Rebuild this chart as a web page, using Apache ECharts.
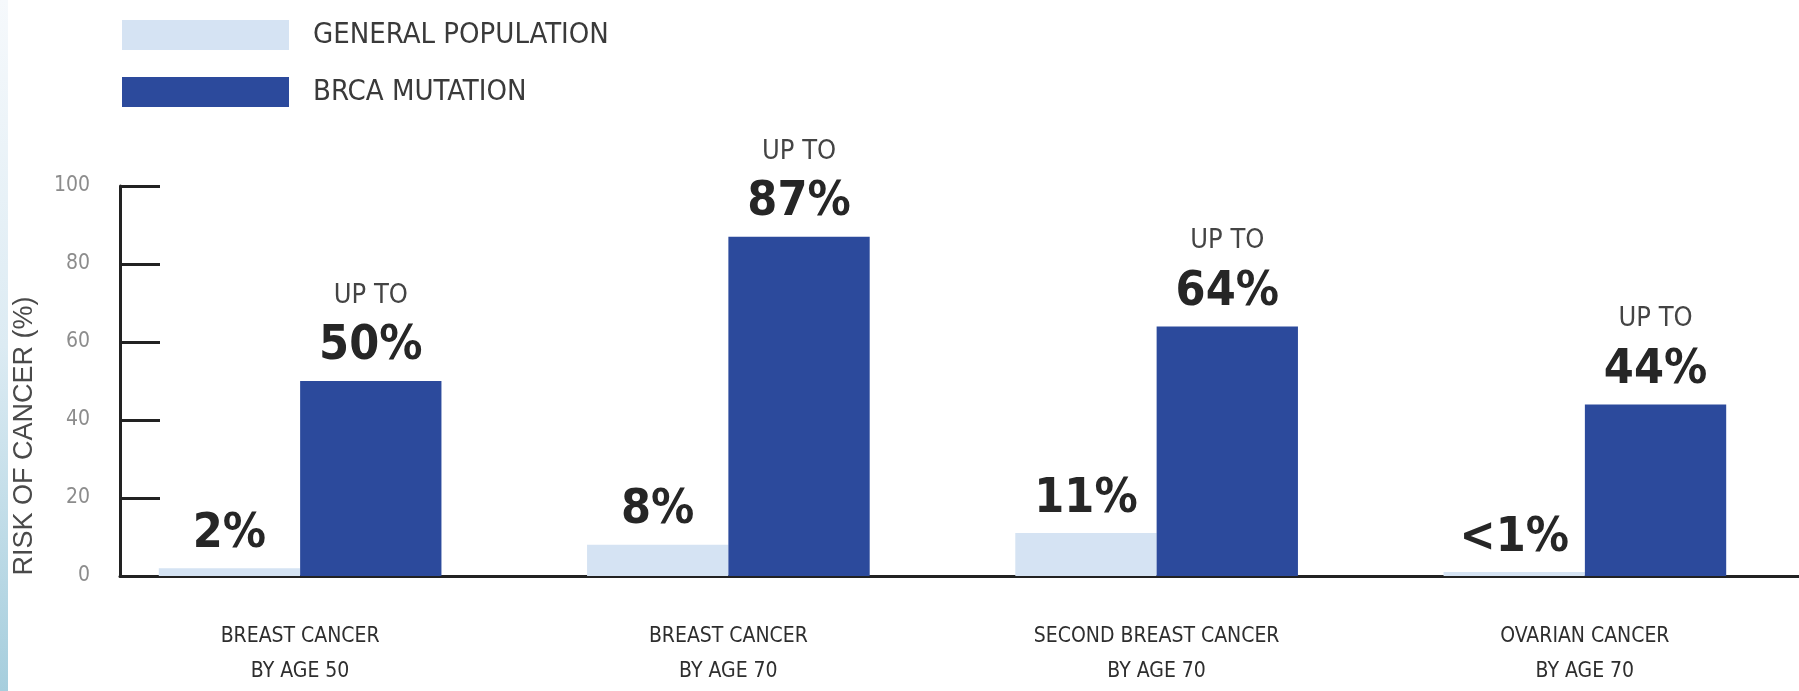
<!DOCTYPE html>
<html>
<head>
<meta charset="utf-8">
<script src="https://cdn.jsdelivr.net/npm/echarts@6/dist/echarts.min.js"></script>
<style>
  html, body { margin: 0; padding: 0; background: #fff; }
  #chart { width: 1799px; height: 691px; }
</style>
</head>
<body>
<div id="chart"></div>
<script>
// data
const categories = [
  'BREAST CANCER\nBY AGE 50',
  'BREAST CANCER\nBY AGE 70',
  'SECOND BREAST CANCER\nBY AGE 70',
  'OVARIAN CANCER\nBY AGE 70'
];
const generalPopulation = [2, 8, 11, 1];
const generalLabels = ['2%', '8%', '11%', '<1%'];
const brcaMutation = [50, 87, 64, 44];
const brcaLabels = ['50%', '87%', '64%', '44%'];
const yTicks = [0, 20, 40, 60, 80, 100];

const narrow = '"Liberation Sans Narrow", "DejaVu Sans Condensed", "Roboto", sans-serif';

const chart = echarts.init(document.getElementById('chart'));

chart.setOption({
  backgroundColor: '#fff',
  animation: false,
  legend: {
    orient: 'vertical',
    left: 117,
    top: 15,
    itemWidth: 167,
    itemHeight: 30,
    itemGap: 27,
    icon: 'rect',
    textStyle: {
      fontFamily: narrow,
      fontSize: 29,
      color: '#3a3a3a',
      padding: [0, 0, 0, 19]
    },
    data: ['GENERAL POPULATION', 'BRCA MUTATION']
  },
  graphic: [
    {
      type: 'rect',
      left: 0,
      top: 0,
      shape: { width: 8, height: 691 },
      style: {
        fill: new echarts.graphic.LinearGradient(0, 0, 0, 1, [
          { offset: 0, color: '#f6f9fc' },
          { offset: 0.5, color: '#dcebf3' },
          { offset: 1, color: '#a6cedd' }
        ])
      },
      silent: true
    },
    {
      type: 'text',
      x: 25,
      y: 436,
      rotation: Math.PI / 2,
      style: {
        text: 'RISK OF CANCER (%)',
        font: '27px "Liberation Sans", Arial, sans-serif',
        fill: '#4a4a4a',
        align: 'center',
        verticalAlign: 'middle',
        textAlign: 'center',
        textVerticalAlign: 'middle'
      }
    }
  ],
  grid: [
    // bars
    { left: 86, right: -31, top: 186, bottom: 115 },
    // axes frame
    { left: 120, right: 0, top: 186, bottom: 115 }
  ],
  xAxis: [
    {
      type: 'category',
      gridIndex: 0,
      data: categories,
      axisLine: { show: false },
      axisTick: { show: false },
      axisLabel: {
        fontFamily: narrow,
        fontSize: 21,
        lineHeight: 35,
        color: '#2e2e2e',
        margin: 43
      }
    },
    {
      type: 'value',
      gridIndex: 1,
      min: 0,
      max: 1,
      axisLine: { show: true, lineStyle: { color: '#222', width: 3 } },
      axisTick: { show: false },
      axisLabel: { show: false },
      splitLine: { show: false }
    }
  ],
  yAxis: [
    {
      type: 'value',
      gridIndex: 0,
      min: 0,
      max: 100,
      show: false
    },
    {
      type: 'value',
      gridIndex: 1,
      min: yTicks[0],
      max: yTicks[yTicks.length - 1],
      interval: 20,
      axisLine: { show: true, lineStyle: { color: '#222', width: 3 } },
      axisTick: { show: true, inside: true, length: 40, lineStyle: { color: '#222', width: 3 } },
      axisLabel: {
        fontFamily: narrow,
        fontSize: 21,
        color: '#8c8c8c',
        margin: 30
      },
      splitLine: { show: false }
    }
  ],
  series: [
    {
      name: 'GENERAL POPULATION',
      type: 'bar',
      xAxisIndex: 0,
      yAxisIndex: 0,
      data: generalPopulation,
      barGap: '0%',
      barCategoryGap: '34%',
      itemStyle: { color: '#d5e3f3' },
      label: {
        show: true,
        position: 'top',
        distance: 6,
        fontFamily: narrow,
        fontSize: 48,
        lineHeight: 56,
        fontWeight: 'bold',
        color: '#262626',
        formatter: (p) => generalLabels[p.dataIndex]
      }
    },
    {
      name: 'BRCA MUTATION',
      type: 'bar',
      xAxisIndex: 0,
      yAxisIndex: 0,
      data: brcaMutation,
      barGap: '0%',
      barCategoryGap: '34%',
      itemStyle: { color: '#2c4a9c' },
      label: {
        show: true,
        position: 'top',
        distance: 6,
        formatter: (p) => '{a|UP TO}\n{b|' + brcaLabels[p.dataIndex] + '}',
        rich: {
          a: {
            fontFamily: narrow,
            fontSize: 27,
            lineHeight: 46,
            color: '#444',
            align: 'center'
          },
          b: {
            fontFamily: narrow,
            fontSize: 48,
            lineHeight: 56,
            fontWeight: 'bold',
            color: '#262626',
            align: 'center'
          }
        }
      }
    }
  ]
});
</script>
</body>
</html>
